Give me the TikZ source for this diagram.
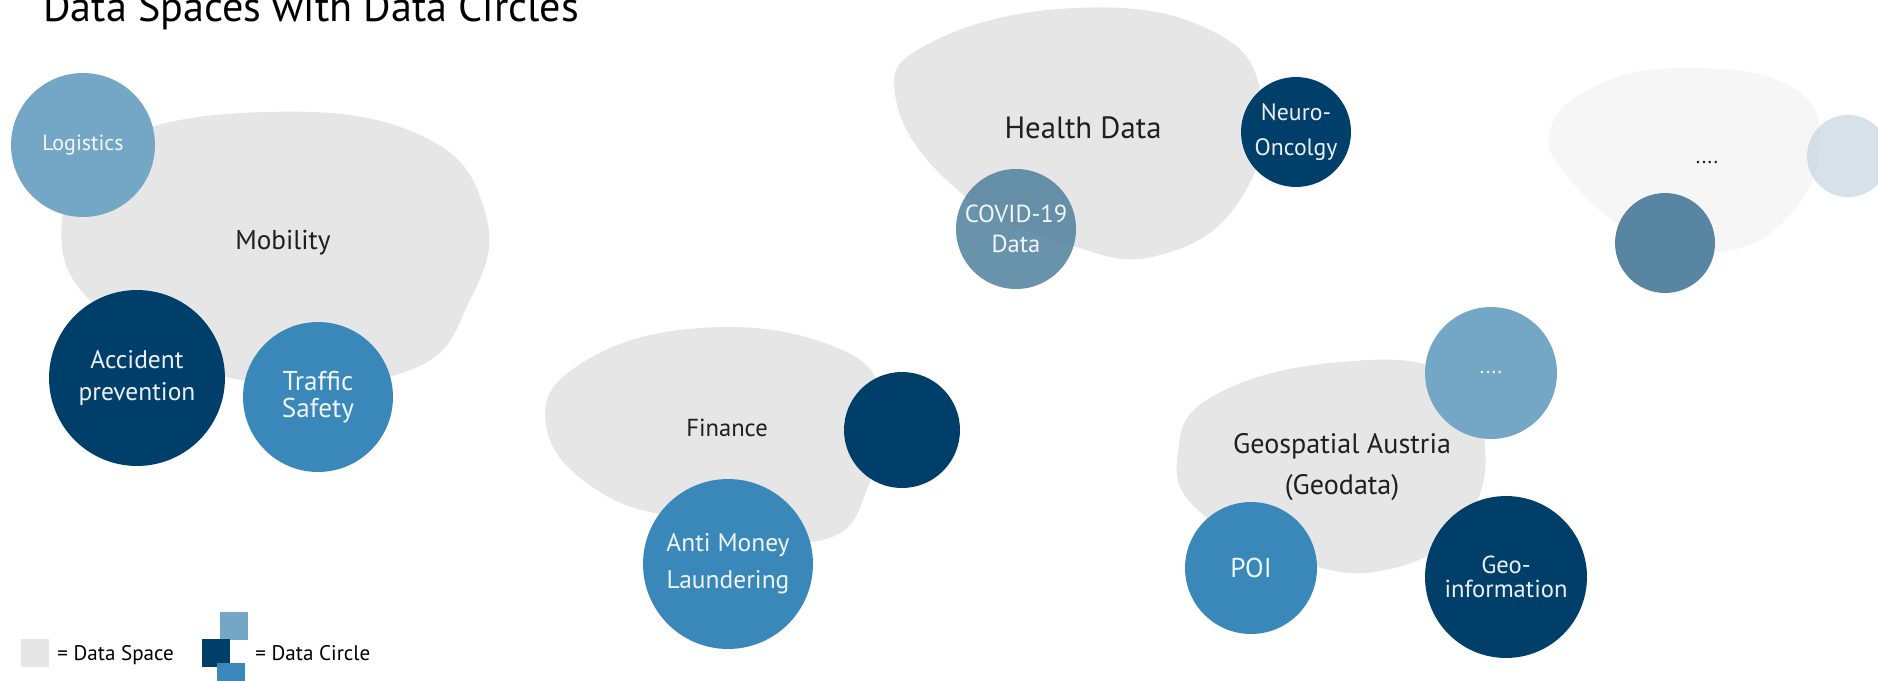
\documentclass[tikz,border=0pt]{standalone}
\usepackage{fontspec}
\setmainfont{PT Sans}
\usetikzlibrary{calc}

\definecolor{spacegray}{HTML}{E6E6E6}
\definecolor{spacefaint}{HTML}{F6F6F6}
\definecolor{navy}{HTML}{003F69}
\definecolor{midblue}{HTML}{3A87B9}
\definecolor{lightblue}{HTML}{74A7C6}
\definecolor{steel}{HTML}{4F7F9C}
\definecolor{paleblue}{HTML}{CCD9E3}

\begin{document}
\begin{tikzpicture}[x=0.02cm,y=-0.02cm]
\tikzset{
  dspace/.style={fill=spacegray},
  dcircle/.style={circle, inner sep=0pt, align=center, text=white, text opacity=0.92},
  spacelabel/.style={align=center, text=black!88},
}
\useasboundingbox (0,0) rectangle (1878,680);

% ----- helper: data circle -----
% \Circ{name}{x}{y}{r}{colour}{font size}{line skip}{text}
\newcommand{\Circ}[8]{%
  \node[dcircle, fill=#5, minimum size={#4*0.04cm},
        font=\fontsize{#6}{#7}\selectfont] (#1) at (#2,#3) {#8};
}

% title
\node[anchor=base west, inner sep=0pt, font=\fontsize{24}{28}\selectfont] (title) at (43,21) {Data Spaces with Data Circles};

% ----- data spaces -----
\fill[dspace] plot[smooth cycle, tension=0.75] coordinates
  {(62,220) (112,143) (267,112) (420,135) (485,212) (470,300) (405,372) (240,380) (100,310)};
\fill[dspace] plot[smooth cycle, tension=0.75] coordinates
  {(896,100) (932,42) (1075,8) (1210,30) (1262,100) (1240,200) (1160,255) (1070,245) (960,192)};
\fill[spacefaint] plot[smooth cycle, tension=0.75] coordinates
  {(1550,130) (1600,84) (1690,68) (1790,86) (1820,142) (1790,215) (1720,252) (1640,236) (1572,182)};
\fill[dspace] plot[smooth cycle, tension=0.75] coordinates
  {(546,425) (582,363) (700,328) (830,345) (883,398) (870,482) (822,540) (700,522) (600,492)};
\fill[dspace] plot[smooth cycle, tension=0.75] coordinates
  {(1178,452) (1215,395) (1340,362) (1450,375) (1485,447) (1462,525) (1390,569) (1300,562) (1200,512)};

\node[spacelabel, font=\fontsize{15.5}{18}\selectfont] (mobility) at (283,243) {Mobility};
\node[spacelabel, font=\fontsize{17.5}{20}\selectfont] (health) at (1083,128) {Health Data};
\node[spacelabel, font=\fontsize{12}{14}\selectfont] (more) at (1707,163) {....};
\node[spacelabel, font=\fontsize{14}{16}\selectfont] (finance) at (727,428) {Finance};
\node[spacelabel, font=\fontsize{16}{23}\selectfont] (geo) at (1342,467) {Geospatial Austria\\(Geodata)};

% ----- data circles -----
\Circ{logistics}{83}{145}{72}{lightblue}{12.5}{14}{Logistics}
\Circ{accident}{137}{378}{88}{navy}{14.5}{18.5}{Accident\\prevention}
\Circ{traffic}{318}{397}{75}{midblue}{15.5}{15.5}{Traffic\\Safety}

\Circ{neuro}{1296}{132}{55}{navy}{13.5}{20}{Neuro-\\Oncolgy}
\node[dcircle, fill=steel, fill opacity=0.85, minimum size={120*0.02cm},
      font=\fontsize{14}{17.5}\selectfont] (covid) at (1016,229) {COVID-19\\Data};

\Circ{steelcircle}{1665}{243}{50}{steel!95!white}{12}{14}{}
\node[dcircle, fill=paleblue, fill opacity=0.8, minimum size={82*0.02cm}] (palecircle) at (1848,156) {};

\Circ{financedark}{902}{430}{58}{navy}{12}{14}{}
\Circ{aml}{728}{564}{85}{midblue}{14.5}{21}{Anti Money\\Laundering}

\Circ{geomore}{1491}{373}{66}{lightblue}{12}{14}{....}
\Circ{poi}{1251}{568}{66}{midblue}{15.5}{18}{POI}
\Circ{geoinfo}{1506}{577}{81}{navy}{14}{14}{Geo-\\information}

% ----- legend -----
\node[fill=spacegray, minimum size=0.56cm, inner sep=0pt] (lgspace) at (35,653) {};
\node[anchor=west, inner sep=0pt, font=\fontsize{12}{14}\selectfont] (lgspacetxt) at (57,655) {= Data Space};
\node[fill=lightblue, minimum size=0.56cm, inner sep=0pt] (lglight) at (234,626) {};
\node[fill=navy, minimum size=0.56cm, inner sep=0pt] (lgdark) at (216,653) {};
\node[fill=midblue, minimum size=0.56cm, inner sep=0pt] (lgmid) at (231,677) {};
\node[anchor=west, inner sep=0pt, font=\fontsize{12}{14}\selectfont] (lgcircletxt) at (255,653) {= Data Circle};

\end{tikzpicture}
\end{document}
